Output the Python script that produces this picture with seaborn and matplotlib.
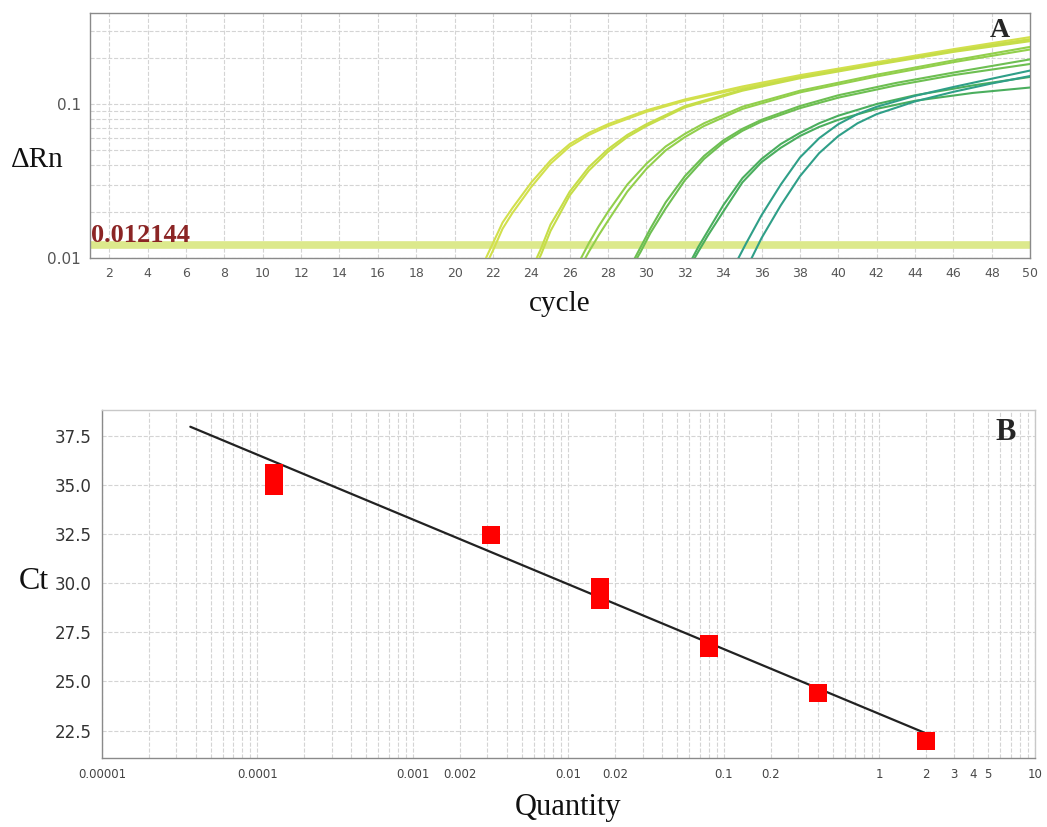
import numpy as np
import pandas as pd
import seaborn as sns
import matplotlib.pyplot as plt
from matplotlib.ticker import LogLocator, NullFormatter, FixedLocator

# ---- panel A: amplification curves (cycle vs delta Rn) ----
g1_x = [21.6, 22, 22.5, 23, 24, 25, 26, 27, 28, 30, 32, 35, 38, 42, 46, 50]
g1a = [0.0098, 0.0125, 0.017, 0.021, 0.031, 0.043, 0.055, 0.065, 0.074, 0.091, 0.107, 0.13, 0.154, 0.187, 0.227, 0.272]
g1b = [0.0088, 0.0112, 0.0155, 0.0195, 0.029, 0.041, 0.053, 0.063, 0.072, 0.089, 0.105, 0.127, 0.151, 0.184, 0.223, 0.264]

g2_x = [24.2, 24.5, 25, 25.5, 26, 27, 28, 29, 30, 32, 35, 38, 42, 46, 50]
g2a = [0.0095, 0.0115, 0.0165, 0.021, 0.027, 0.039, 0.051, 0.063, 0.074, 0.097, 0.124, 0.149, 0.182, 0.221, 0.262]
g2b = [0.0088, 0.0105, 0.015, 0.0195, 0.0255, 0.037, 0.049, 0.061, 0.072, 0.095, 0.122, 0.147, 0.18, 0.218, 0.256]

g3_x = [26.5, 27, 27.5, 28, 29, 30, 31, 32, 33, 35, 38, 42, 46, 50]
g3a = [0.0095, 0.0125, 0.016, 0.02, 0.03, 0.041, 0.053, 0.064, 0.075, 0.096, 0.122, 0.155, 0.192, 0.235]
g3b = [0.0085, 0.011, 0.014, 0.0175, 0.027, 0.038, 0.05, 0.061, 0.072, 0.093, 0.119, 0.151, 0.187, 0.226]

g4_x = [29.3, 29.7, 30.2, 31, 32, 33, 34, 35, 36, 38, 40, 43, 46, 50]
g4a = [0.0095, 0.0118, 0.0155, 0.023, 0.034, 0.046, 0.058, 0.069, 0.079, 0.097, 0.114, 0.137, 0.16, 0.195]
g4b = [0.009, 0.011, 0.0145, 0.021, 0.032, 0.044, 0.056, 0.067, 0.077, 0.094, 0.11, 0.132, 0.154, 0.182]

g5_x = [32.3, 32.7, 33.2, 34, 35, 36, 37, 38, 39, 40, 42, 44, 47, 50]
g5a = [0.0095, 0.0118, 0.015, 0.022, 0.033, 0.044, 0.055, 0.065, 0.075, 0.084, 0.1, 0.114, 0.132, 0.15]
g5b = [0.009, 0.011, 0.014, 0.02, 0.031, 0.042, 0.052, 0.062, 0.071, 0.079, 0.093, 0.105, 0.118, 0.128]

g6_x = [34.7, 35.2, 36, 37, 38, 39, 40, 41, 42, 44, 46, 48, 50]
g6a = [0.0095, 0.0125, 0.019, 0.03, 0.045, 0.06, 0.074, 0.086, 0.096, 0.113, 0.129, 0.146, 0.165]
g6b = [0.0068, 0.0085, 0.0135, 0.022, 0.034, 0.048, 0.062, 0.075, 0.086, 0.104, 0.12, 0.136, 0.152]

threshold = 0.012144
cycle_ticks = list(range(2, 51, 2))

# ---- panel B: standard curve ----
std_qty = [2, 0.4, 0.08, 0.08, 0.016, 0.016, 0.0032, 0.000128, 0.000128]
std_ct = [21.95, 24.4, 26.7, 26.9, 29.15, 29.8, 32.45, 34.95, 35.6]
fit_qty = [3.7e-5, 2]
fit_ct = [37.95, 22.35]
qty_ticks = [0.00001, 0.0001, 0.001, 0.002, 0.01, 0.02, 0.1, 0.2, 1, 2, 3, 4, 5, 10]
qty_labels = ["0.00001", "0.0001", "0.001", "0.002", "0.01", "0.02", "0.1", "0.2", "1", "2", "3", "4", "5", "10"]
ct_ticks = [22.5, 25.0, 27.5, 30.0, 32.5, 35.0, 37.5]

sns.set_style("white")
plt.rcParams["font.family"] = ["DejaVu Sans"]

# long table for seaborn
groups = [(g1_x, g1a, g1b, "#d2e04c"), (g2_x, g2a, g2b, "#c6dd48"),
          (g3_x, g3a, g3b, "#92cf4c"), (g4_x, g4a, g4b, "#6dbf52"),
          (g5_x, g5a, g5b, "#4aae5e"), (g6_x, g6a, g6b, "#2f9f88")]
rows = []
palette = {}
for i, (gx, ga, gb, col) in enumerate(groups):
    for tag, gy in (("a", ga), ("b", gb)):
        name = f"g{i+1}{tag}"
        palette[name] = col
        for cx, cy in zip(gx, gy):
            rows.append((name, cx, cy))
amp = pd.DataFrame(rows, columns=["curve", "cycle", "dRn"])

fig = plt.figure(figsize=(10.47, 8.27), dpi=100)
grid_col = "#d4d4d4"
spine_col = "#8a8a8a"

# ---------------- panel A ----------------
axA = fig.add_axes([0.086, 0.688, 0.898, 0.2963])
axA.set_yscale("log")
axA.axhline(threshold, color="#dce98c", lw=5.5, zorder=1.5)
sns.lineplot(data=amp, x="cycle", y="dRn", hue="curve", palette=palette,
             units="curve", estimator=None, sort=False, legend=False,
             lw=1.5, ax=axA, zorder=3)
axA.set_xlim(1, 50)
axA.set_ylim(0.01, 0.39)
axA.set_xticks(cycle_ticks)
axA.set_xticklabels([str(c) for c in cycle_ticks])
axA.set_yticks([0.01, 0.1])
axA.set_yticklabels(["0.01", "0.1"])
axA.yaxis.set_minor_locator(LogLocator(base=10, subs=np.arange(2, 10)))
axA.yaxis.set_minor_formatter(NullFormatter())
axA.grid(True, which="major", color=grid_col, ls="--", lw=0.8)
axA.grid(True, which="minor", axis="y", color=grid_col, ls="--", lw=0.8)
axA.tick_params(axis="both", which="major", labelsize=9, colors="#555555",
                length=3, width=0.8)
axA.tick_params(axis="y", which="minor", length=0)
axA.tick_params(axis="y", labelsize=11)
for s in axA.spines.values():
    s.set_color(spine_col)
    s.set_linewidth(1)
axA.set_xlabel("cycle", fontfamily="Liberation Serif", fontsize=21, color="#111111", labelpad=8)
axA.set_ylabel("ΔRn", fontfamily="Liberation Serif", fontsize=21, color="#111111",
               rotation=0, ha="center", va="center")
axA.yaxis.set_label_coords(-0.056, 0.40)
axA.text(1.05, 0.0118, "0.012144", fontfamily="Liberation Serif", fontweight="bold",
         fontsize=19, color="#8b2525", ha="left", va="bottom", zorder=5)
axA.text(0.978, 0.93, "A", transform=axA.transAxes, fontfamily="Liberation Serif",
         fontweight="bold", fontsize=20, ha="right", va="center")

# ---------------- panel B ----------------
axB = fig.add_axes([0.0974, 0.0834, 0.891, 0.4208])
axB.set_xscale("log")
sns.lineplot(x=fit_qty, y=fit_ct, color="#222222", lw=1.6, ax=axB, zorder=3)
sns.scatterplot(x=std_qty, y=std_ct, marker="s", s=175, color="#ff0000",
                linewidth=0, ax=axB, zorder=4)
axB.set_xlim(1e-5, 10)
axB.set_ylim(21.1, 38.8)
axB.xaxis.set_major_locator(FixedLocator(qty_ticks))
axB.set_xticklabels(qty_labels)
axB.xaxis.set_minor_locator(LogLocator(base=10, subs=np.arange(2, 10), numticks=20))
axB.xaxis.set_minor_formatter(NullFormatter())
axB.set_yticks(ct_ticks)
axB.set_yticklabels([f"{t:.1f}" for t in ct_ticks])
axB.grid(True, which="major", color=grid_col, ls="--", lw=0.8)
axB.grid(True, which="minor", axis="x", color=grid_col, ls="--", lw=0.8)
axB.tick_params(axis="x", which="major", labelsize=8.5, colors="#444444", length=4, width=0.8)
axB.tick_params(axis="x", which="minor", length=0)
axB.tick_params(axis="y", which="major", labelsize=12, colors="#333333", length=4, width=0.8)
for s in axB.spines.values():
    s.set_color(spine_col)
    s.set_linewidth(1)
axB.spines["top"].set_color("#c8c8c8")
axB.spines["right"].set_color("#c8c8c8")
axB.set_xlabel("Quantity", fontfamily="Liberation Serif", fontsize=22, color="#111111", labelpad=8)
axB.set_ylabel("Ct", fontfamily="Liberation Serif", fontsize=23, color="#111111",
               rotation=0, ha="center", va="center")
axB.yaxis.set_label_coords(-0.073, 0.506)
axB.text(0.98, 0.935, "B", transform=axB.transAxes, fontfamily="Liberation Serif",
         fontweight="bold", fontsize=22, ha="right", va="center")

fig.savefig("out.png", dpi=100)
